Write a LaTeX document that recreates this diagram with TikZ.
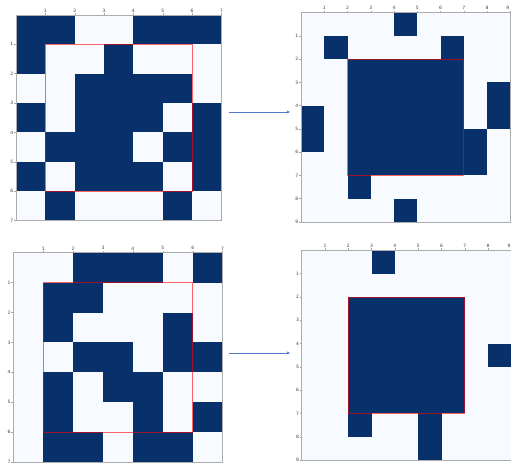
\documentclass[tikz,border=0pt]{standalone}
\usepackage{fontspec}
\setmainfont{DejaVu Sans}
\usetikzlibrary{arrows.meta}
\definecolor{dk}{HTML}{08306B}
\definecolor{lt}{HTML}{F7FBFF}
\definecolor{arrowblue}{RGB}{80,120,205}
\tikzset{
  darkcell/.style={fill=dk},
  lightbg/.style={fill=lt},
  axisframe/.style={draw=gray!65,line width=0.7},
  redbox/.style={draw=red,draw opacity=0.6,line width=0.8},
  tickmark/.style={draw=gray!70,line width=0.4},
  ticklbl/.style={font=\fontsize{4.5}{5}\selectfont,text=black!75,inner sep=0.5pt},
  conn/.style={-{Stealth[length=3.5pt,width=3pt]},draw=arrowblue,line width=0.55}
}
% #1 x0, #2 y0, #3 cell, #4 n, #5 dark cells, #6 red lo, #7 red hi, #8 fill red block (1/0)
\newcommand\mygrid[8]{%
  \begin{scope}[shift={(#1,#2)},x=#3pt,y=-#3pt]
    \fill[lightbg] (0,0) rectangle (#4,#4);
    \ifnum#8=1 \fill[darkcell] (#6,#6) rectangle (#7,#7);\fi
    \foreach \c/\r in {#5} {\fill[darkcell] (\c,\r) rectangle ++(1,1);}
    \draw[redbox] (#6,#6) rectangle (#7,#7);
    \draw[axisframe] (0,0) rectangle (#4,#4);
    \foreach \k in {1,...,#4} {
      \ifnum\k=9
        \draw[tickmark] (\k,0) -- ++(0pt,2pt) node[ticklbl,anchor=south east,xshift=-0.3pt] {\k};
      \else
        \draw[tickmark] (\k,0) -- ++(0pt,2pt) node[ticklbl,anchor=south] {\k};
      \fi
      \draw[tickmark] (0,\k) -- ++(-2pt,0pt) node[ticklbl,anchor=east] {\k};
    }
  \end{scope}}
\begin{document}
\begin{tikzpicture}[x=1pt,y=-1pt]
\useasboundingbox (0,0) rectangle (511,465);
\clip (0,0) rectangle (511,465);
\fill[white] (0,0) rectangle (511,465);
% top-left
\mygrid{16}{15}{29.35}{7}{0/0,1/0,4/0,5/0,6/0, 0/1,3/1, 2/2,3/2,4/2,5/2, 0/3,2/3,3/3,4/3,6/3, 1/4,2/4,3/4,5/4,6/4, 0/5,2/5,3/5,4/5,6/5, 1/6,5/6}{1}{6}{0}
% top-right
\mygrid{301}{12.7}{23.25}{9}{4/0,1/1,6/1,8/3,8/4,0/4,0/5,7/5,7/6,2/7,4/8}{2}{7}{1}
% bottom-left
\mygrid{13.3}{252.7}{29.9}{7}{2/0,3/0,4/0,6/0, 1/1,2/1, 1/2,5/2, 2/3,3/3,5/3,6/3, 1/4,3/4,4/4, 1/5,4/5,6/5, 1/6,2/6,4/6,5/6}{1}{6}{0}
% bottom-right
\mygrid{301.7}{250.3}{23.3}{9}{3/0,8/4,2/7,5/7,5/8}{2}{7}{1}
% arrows
\coordinate (a1s) at (229,112);
\coordinate (a1e) at (290,112);
\coordinate (a2s) at (229,353);
\coordinate (a2e) at (290,353);
\draw[conn] (a1s) -- (a1e);
\draw[conn] (a2s) -- (a2e);
\end{tikzpicture}
\end{document}
